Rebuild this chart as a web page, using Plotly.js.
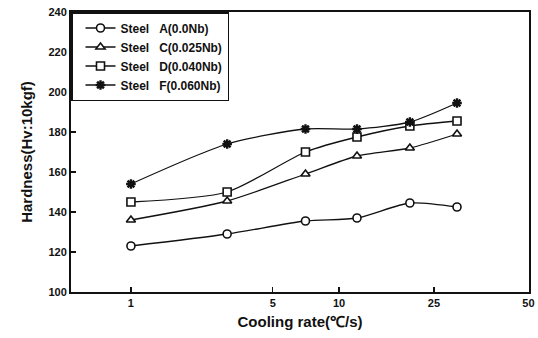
<!DOCTYPE html>
<html>
<head>
<meta charset="utf-8">
<script src="https://cdn.plot.ly/plotly-3.0.1.min.js"></script>
<style>html,body{margin:0;padding:0;background:#fff;}#chart{width:538px;height:338px;}</style>
</head>
<body>
<div id="chart"></div>
<script>
// Cooling rate (deg C/s)
const coolingRate = [1, 2.9, 6.9, 12.2, 21.9, 36.9];
const steelA = [123, 129, 135.5, 137, 144.5, 142.5];
const steelC = [136, 145.5, 159, 168, 172, 179];
const steelD = [145, 150, 170, 177.5, 183, 185.5];
const steelF = [154, 174, 181.5, 181.5, 185, 194.5];
const seriesNames = ['Steel\u00a0\u00a0\u00a0A(0.0Nb)', 'Steel\u00a0\u00a0\u00a0C(0.025Nb)', 'Steel\u00a0\u00a0\u00a0D(0.040Nb)', 'Steel\u00a0\u00a0\u00a0F(0.060Nb)'];
const xTickVals = [1, 4.8, 10, 28.6, 81.3];
const xTickText = ['1', '5', '10', '25', '50'];
const yTickVals = [100, 120, 140, 160, 180, 200, 220, 240];

const fontFam = 'Liberation Sans, Arial, sans-serif';
function tr(y, name, symbol, fill) {
  return {
    x: coolingRate, y: y, name: name, type: 'scatter', mode: 'lines+markers',
    line: {color: '#111', width: 1.3, shape: 'spline', smoothing: 0.7},
    marker: {symbol: symbol, size: 8, color: fill, line: {color: '#111', width: 1.6}}
  };
}
const data = [
  tr(steelA, seriesNames[0], 'circle', '#fff'),
  tr(steelC, seriesNames[1], 'triangle-up', '#fff'),
  tr(steelD, seriesNames[2], 'square', '#fff'),
  tr(steelF, seriesNames[3], 'asterisk-open', '#111')
];
data[3].marker.line.width = 2.4;
data[3].marker.size = 8;

const layout = {
  width: 538, height: 338,
  margin: {l: 71, r: 9, t: 12, b: 46},
  paper_bgcolor: '#fff', plot_bgcolor: '#fff',
  showlegend: true,
  font: {family: fontFam, size: 11, color: '#111', weight: 'bold'},
  xaxis: {
    type: 'log', range: [-0.288, 1.913],
    tickmode: 'array', tickvals: xTickVals, ticktext: xTickText,
    ticks: 'inside', ticklen: 5, tickwidth: 1.5, tickcolor: '#111',
    showgrid: false, zeroline: false,
    showline: true, linecolor: '#111', linewidth: 2, mirror: true,
    tickfont: {family: fontFam, size: 11, weight: 'bold'},
    title: {text: 'Cooling rate(\u2103/s)', font: {family: fontFam, size: 15, weight: 'bold'}, standoff: 8}
  },
  yaxis: {
    range: [100, 240], tickmode: 'array', tickvals: yTickVals,
    ticks: 'inside', ticklen: 5, tickwidth: 1.5, tickcolor: '#111',
    showgrid: false, zeroline: false,
    showline: true, linecolor: '#111', linewidth: 2, mirror: true,
    tickfont: {family: fontFam, size: 11, weight: 'bold'},
    title: {text: 'Hardness(Hv:10kgf)', font: {family: fontFam, size: 15, weight: 'bold'}, standoff: 12}
  },
  legend: {
    x: 0, y: 1, xanchor: 'left', yanchor: 'top',
    bgcolor: '#fff', bordercolor: '#111', borderwidth: 1.5,
    font: {family: fontFam, size: 12, weight: 'bold'},
    tracegroupgap: 0, itemwidth: 30, indentation: 8
  }
};
Plotly.newPlot('chart', data, layout, {staticPlot: true});
</script>
</body>
</html>
